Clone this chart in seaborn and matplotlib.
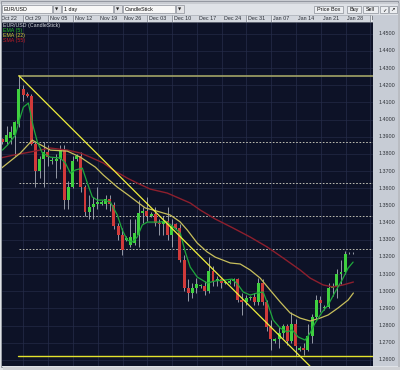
import matplotlib
matplotlib.use("Agg")
import matplotlib.pyplot as plt
import matplotlib.transforms as mtransforms
from matplotlib.patches import Rectangle
import numpy as np
import pandas as pd
import seaborn as sns

# ---------------- data ----------------
week_labels = ["Oct 22", "Oct 29", "Nov 05", "Nov 12", "Nov 19", "Nov 26", "Dec 03",
               "Dec 10", "Dec 17", "Dec 24", "Dec 31", "Jan 07", "Jan 14", "Jan 21",
               "Jan 28", "Feb 04"]

# daily candles, 6 per week (Sun..Fri), first = Sun Oct 23
opens = [1.3885, 1.3870, 1.3895, 1.3910, 1.3975, 1.4175,
         1.4150, 1.4140, 1.3860, 1.3700, 1.3770, 1.3810,
         1.3760, 1.3760, 1.3770, 1.3820, 1.3530, 1.3610,
         1.3770, 1.3790, 1.3610, 1.3460, 1.3490, 1.3510,
         1.3510, 1.3510, 1.3540, 1.3500, 1.3380, 1.3330,
         1.3300, 1.3270, 1.3280, 1.3330, 1.3455, 1.3470,
         1.3440, 1.3450, 1.3400, 1.3390, 1.3410, 1.3330,
         1.3390, 1.3370, 1.3180, 1.3020, 1.2990, 1.3020,
         1.3030, 1.3030, 1.3000, 1.3120, 1.3060, 1.3070,
         1.3050, 1.3050, 1.3060, 1.3070, 1.2950, 1.2940,
         1.2960, 1.2965, 1.2940, 1.3050, 1.2940, 1.2790,
         1.2710, 1.2720, 1.2760, 1.2800, 1.2710, 1.2810,
         1.2660, 1.2670, 1.2660, 1.2740, 1.2850, 1.2950,
         1.2900, 1.2910, 1.3020, 1.3030, 1.3100, 1.3110,
         1.3225, 1.3222]
highs = [1.3895, 1.3960, 1.3960, 1.3990, 1.4255, 1.4200,
         1.4160, 1.4150, 1.3870, 1.3790, 1.3870, 1.3850,
         1.3780, 1.3800, 1.3850, 1.3850, 1.3640, 1.3790,
         1.3800, 1.3810, 1.3620, 1.3560, 1.3550, 1.3610,
         1.3530, 1.3560, 1.3560, 1.3520, 1.3400, 1.3370,
         1.3320, 1.3420, 1.3420, 1.3530, 1.3490, 1.3550,
         1.3460, 1.3490, 1.3420, 1.3440, 1.3490, 1.3420,
         1.3400, 1.3390, 1.3210, 1.3070, 1.3050, 1.3080,
         1.3040, 1.3060, 1.3200, 1.3150, 1.3090, 1.3080,
         1.3055, 1.3070, 1.3080, 1.3080, 1.2990, 1.2980,
         1.2975, 1.2990, 1.3080, 1.3070, 1.2950, 1.2830,
         1.2730, 1.2790, 1.2810, 1.2810, 1.2880, 1.2840,
         1.2680, 1.2700, 1.2810, 1.2870, 1.2980, 1.2970,
         1.2920, 1.3050, 1.3050, 1.3130, 1.3180, 1.3235,
         1.3230, 1.3228]
lows = [1.3860, 1.3850, 1.3860, 1.3785, 1.3955, 1.4110,
        1.4130, 1.3850, 1.3610, 1.3660, 1.3610, 1.3730,
        1.3740, 1.3660, 1.3710, 1.3480, 1.3480, 1.3600,
        1.3760, 1.3580, 1.3440, 1.3420, 1.3420, 1.3480,
        1.3500, 1.3480, 1.3470, 1.3360, 1.3300, 1.3212,
        1.3290, 1.3260, 1.3270, 1.3260, 1.3400, 1.3410,
        1.3430, 1.3380, 1.3330, 1.3330, 1.3300, 1.3260,
        1.3360, 1.3170, 1.3000, 1.2945, 1.2960, 1.2990,
        1.3020, 1.2980, 1.2990, 1.3030, 1.3030, 1.3020,
        1.3045, 1.3040, 1.3030, 1.2940, 1.2860, 1.2920,
        1.2950, 1.2920, 1.2920, 1.2920, 1.2770, 1.2660,
        1.2700, 1.2670, 1.2730, 1.2690, 1.2700, 1.2624,
        1.2650, 1.2630, 1.2650, 1.2700, 1.2840, 1.2880,
        1.2890, 1.2900, 1.2970, 1.2960, 1.3040, 1.3100,
        1.3220, 1.3218]
closes = [1.3870, 1.3910, 1.3925, 1.3985, 1.4180, 1.4145,
          1.4140, 1.3860, 1.3700, 1.3770, 1.3810, 1.3780,
          1.3765, 1.3770, 1.3820, 1.3530, 1.3610, 1.3760,
          1.3790, 1.3610, 1.3460, 1.3490, 1.3510, 1.3520,
          1.3520, 1.3540, 1.3510, 1.3380, 1.3330, 1.3240,
          1.3310, 1.3315, 1.3340, 1.3455, 1.3470, 1.3440,
          1.3450, 1.3400, 1.3390, 1.3410, 1.3330, 1.3380,
          1.3370, 1.3180, 1.3020, 1.2990, 1.3020, 1.3040,
          1.3035, 1.3000, 1.3120, 1.3060, 1.3070, 1.3050,
          1.3052, 1.3060, 1.3070, 1.2950, 1.2940, 1.2960,
          1.2965, 1.2940, 1.3050, 1.2940, 1.2790, 1.2720,
          1.2720, 1.2760, 1.2800, 1.2710, 1.2810, 1.2680,
          1.2670, 1.2660, 1.2740, 1.2850, 1.2950, 1.2930,
          1.2910, 1.3020, 1.3030, 1.3100, 1.3110, 1.3215,
          1.3222, 1.3225]

# indicator lines (position in candle units, price)
ema5_x = [0.0, 1.21, 3.15, 4.11, 5.08, 6.29, 7.5, 8.47, 9.68, 11.61, 14.03, 15.24, 16.45,
          17.66, 19.36, 20.57, 21.78, 22.99, 24.44, 26.13, 27.83, 29.03, 30.24, 31.45,
          32.66, 33.87, 35.08, 38.23, 39.44, 41.13, 43.07, 44.28, 45.49, 47.18, 49.6,
          51.54, 53.96, 55.65, 57.1, 58.31, 60.0, 61.7, 63.15, 64.36, 65.57, 67.26,
          68.96, 70.17, 71.62, 73.31, 74.52, 75.73, 77.43, 78.88, 80.57, 82.27, 83.72, 84.93]
ema5_y = [1.3822, 1.3851, 1.3910, 1.3997, 1.4072, 1.4096, 1.3956, 1.3869, 1.3805, 1.3781,
          1.3776, 1.3747, 1.3688, 1.3706, 1.3717, 1.3630, 1.3549, 1.3531, 1.3531, 1.3520,
          1.3444, 1.3357, 1.3298, 1.3287, 1.3316, 1.3386, 1.3403, 1.3403, 1.3409, 1.3380,
          1.3339, 1.3229, 1.3141, 1.3083, 1.3048, 1.3060, 1.3066, 1.3071, 1.3037, 1.2996,
          1.2978, 1.2990, 1.2996, 1.2920, 1.2833, 1.2786, 1.2763, 1.2775, 1.2734, 1.2716,
          1.2757, 1.2815, 1.2879, 1.2920, 1.2996, 1.3066, 1.3135, 1.3170]

ema22_x = [-0.5, 4.35, 7.26, 8.47, 11.61, 15.73, 18.87, 22.5, 24.44, 27.8, 30.49, 32.66,
           34.6, 36.54, 40.65, 43.0, 44.76, 47.18, 49.6, 51.54, 55.17, 57.59, 60.0, 62.42,
           64.84, 67.26, 69.68, 72.1, 74.52, 76.94, 78.88, 81.3, 83.72, 85.0]
ema22_y = [1.3712, 1.3805, 1.3880, 1.3863, 1.3822, 1.3816, 1.3781, 1.3723, 1.3677, 1.3607,
           1.3560, 1.3520, 1.3485, 1.3473, 1.3444, 1.3405, 1.3357, 1.3281, 1.3229, 1.3199,
           1.3165, 1.3159, 1.3124, 1.3077, 1.3007, 1.2938, 1.2874, 1.2844, 1.2827, 1.2844,
           1.2862, 1.2903, 1.2949, 1.2990]

sma55_x = [-0.5, 2.66, 6.77, 11.61, 15.73, 18.87, 21.29, 24.44, 26.86, 30.24, 32.66, 35.81,
           39.92, 45.49, 47.91, 51.54, 55.89, 60.0, 64.12, 67.99, 72.1, 74.52, 77.67, 80.09,
           82.51, 85.0]
sma55_y = [1.3776, 1.3793, 1.3811, 1.3834, 1.3822, 1.3805, 1.3781, 1.3747, 1.3706, 1.3659,
           1.3630, 1.3595, 1.3572, 1.3514, 1.3473, 1.3421, 1.3368, 1.3316, 1.3258, 1.3194,
           1.3124, 1.3077, 1.3037, 1.3025, 1.3037, 1.3054]

# drawn objects: support / resistance, trend line, retracement levels
level_high = 1.4255
level_low = 1.2624
trend_x = [4, 74.5]
trend_y = [1.4255, 1.2564]
fib_levels = [1.3870, 1.3632, 1.3440, 1.3247]
price_labels = [round(1.26 + 0.01 * k, 2) for k in range(20)]

# ---------------- figure ----------------
sns.set_style("dark")
plt.rcParams['font.family'] = ['Liberation Sans', 'DejaVu Sans']

W, H = 400, 370
fig = plt.figure(figsize=(4, 3.7), dpi=100)
fig.patch.set_facecolor('#dfe2e7')


def fx(px):
    return px / W


def fy(py):
    return 1 - py / H


L, R, T, B = 2, 373, 22, 366
XMIN, XMAX = -0.1, 89.75
YMIN, YMAX = 1.2565, 1.4568

ax = fig.add_axes([fx(L), fy(B), (R - L) / W, (B - T) / H])
ax.set_facecolor('#0d1227')

n = len(closes)
idx = np.arange(n)
df = pd.DataFrame({"i": idx, "o": opens, "h": highs, "l": lows, "c": closes})

# grid
for p in price_labels:
    ax.axhline(p, color='#232a46', lw=0.5, zorder=0.5)
seps = [6 * w - 0.9 for w in range(len(week_labels))]
for s in seps:
    ax.axvline(s, color='#262d4a', lw=0.5, zorder=0.5)

# retracement levels
for lv in fib_levels:
    ax.plot([4, XMAX], [lv, lv], color='#d8d8c8', lw=0.6, ls=(0, (2, 2)), zorder=1)

# candles
up = df["c"] >= df["o"]
colors = np.where(up, '#3fcf3f', '#d03a3a')
ax.vlines(df["i"], df["l"], df["h"], color='#b9bdc8', lw=0.55, zorder=2)
body = (df["c"] - df["o"]).abs().clip(lower=0.00035)
bottom = np.minimum(df["o"], df["c"])
ax.bar(df["i"], body, bottom=bottom, width=0.72, color=colors, linewidth=0, zorder=3)

# indicators
sns.lineplot(x=sma55_x, y=sma55_y, ax=ax, color='#8e1f2d', linewidth=1.0, sort=False,
             estimator=None, zorder=4)
sns.lineplot(x=ema22_x, y=ema22_y, ax=ax, color='#c8bf5c', linewidth=0.9, sort=False,
             estimator=None, zorder=4)
sns.lineplot(x=ema5_x, y=ema5_y, ax=ax, color='#1fa83c', linewidth=0.9, sort=False,
             estimator=None, zorder=4)

# drawn lines
ax.plot([4, XMAX], [level_high, level_high], color='#a3a466', lw=1.2, zorder=5)
ax.plot([3.7, XMAX], [level_low, level_low], color='#e4e32c', lw=1.0, zorder=5)
ax.plot(trend_x, trend_y, color='#f0ef3c', lw=0.9, zorder=5)

ax.set_xlim(XMIN, XMAX)
ax.set_ylim(YMIN, YMAX)
ax.set_xticks([])
ax.set_yticks([])
ax.set_xlabel("")
ax.set_ylabel("")
for sp in ax.spines.values():
    sp.set_visible(False)

# date header
hx = fig.add_axes([fx(L), fy(22), (R - L) / W, 7 / H])
hx.set_facecolor('#d3d7de')
hx.set_xlim(XMIN, XMAX)
hx.set_ylim(0, 1)
for s, lab in zip(seps, week_labels):
    hx.axvline(s, color='#8c9199', lw=0.6)
    hx.axvline(s + 0.12, color='#f3f4f6', lw=0.5)
    hx.text(s + 0.45, 0.45, lab, fontsize=3.9, color='#2b2f36', va='center', ha='left',
            clip_on=True)
hx.set_xticks([])
hx.set_yticks([])
for sp in hx.spines.values():
    sp.set_color('#9ea3ab')
    sp.set_linewidth(0.4)

# price axis
rx = fig.add_axes([fx(R), fy(B), (398 - R) / W, (B - T) / H])
rx.set_facecolor('#c7ccd5')
rx.set_xlim(0, 1)
rx.set_ylim(YMIN, YMAX)
trans = mtransforms.blended_transform_factory(rx.transAxes, rx.transData)
for p in price_labels:
    rx.text(0.55, p, f"{p:.4f}", transform=trans, fontsize=3.9, color='#2e3238',
            ha='center', va='center')
rx.set_xticks([])
rx.set_yticks([])
for sp in rx.spines.values():
    sp.set_visible(False)

# overlay in pixel coordinates: toolbar, legend, frame
ov = fig.add_axes([0, 0, 1, 1], zorder=10)
ov.set_xlim(0, W)
ov.set_ylim(H, 0)
ov.axis('off')
ov.patch.set_alpha(0)

ov.add_patch(Rectangle((373, 15), 25, 7, facecolor='#c7ccd5', edgecolor='none'))
ov.add_patch(Rectangle((0, 0), W, 4, facecolor='#c9ccd2', edgecolor='none'))


def dropdown(x0, x1, label):
    ov.add_patch(Rectangle((x0, 5), x1 - x0, 8, facecolor='#f7f7f7', edgecolor='#8d9199', lw=0.5))
    ov.text(x0 + 2, 9.2, label, fontsize=3.9, color='#111111', va='center', ha='left')
    ov.add_patch(Rectangle((x1 + 1, 5), 8, 8, facecolor='#e3e4e7', edgecolor='#8d9199', lw=0.5))
    ov.text(x1 + 5, 9.2, '\u25bc', fontsize=3.0, color='#222222', va='center', ha='center',
            family='DejaVu Sans')


dropdown(2, 52, "EUR/USD")
dropdown(62, 113, "1 day")
dropdown(123, 175, "CandleStick")


def button(x0, x1, label, fam=None):
    ov.add_patch(Rectangle((x0, 5.5), x1 - x0, 7.5, facecolor='#eceef1', edgecolor='#8d9199', lw=0.5))
    kw = {}
    if fam:
        kw['family'] = fam
    ov.text((x0 + x1) / 2, 9.3, label, fontsize=3.9, color='#111111', va='center', ha='center', **kw)


button(314, 343, "Price Box")
button(347, 361, "Buy")
button(363, 378, "Sell")
button(380, 388, "\u2713", 'DejaVu Sans')
button(389, 397, "\u2197", 'DejaVu Sans')

# legend text
ov.text(3, 25.3, "EUR/USD (CandleStick)", fontsize=3.8, color='#d4d7de', va='center', ha='left')
ov.text(3, 30.5, "EMA (5)", fontsize=3.8, color='#2ec22e', va='center', ha='left')
ov.text(3, 35.6, "EMA (22)", fontsize=3.8, color='#d6cc3c', va='center', ha='left')
ov.text(3, 40.7, "SMA (55)", fontsize=3.8, color='#c41e28', va='center', ha='left')

# frame
ov.add_patch(Rectangle((0.6, 0.6), 397.4, 366, facecolor='none', edgecolor='#8a8f98', lw=0.6))
ov.add_patch(Rectangle((398, 3), 2, 367, facecolor='#b9bcc2', edgecolor='none'))
ov.add_patch(Rectangle((3, 367), 397, 3, facecolor='#cfd1d5', edgecolor='none'))

fig.savefig("out.png", dpi=100, facecolor=fig.get_facecolor())
